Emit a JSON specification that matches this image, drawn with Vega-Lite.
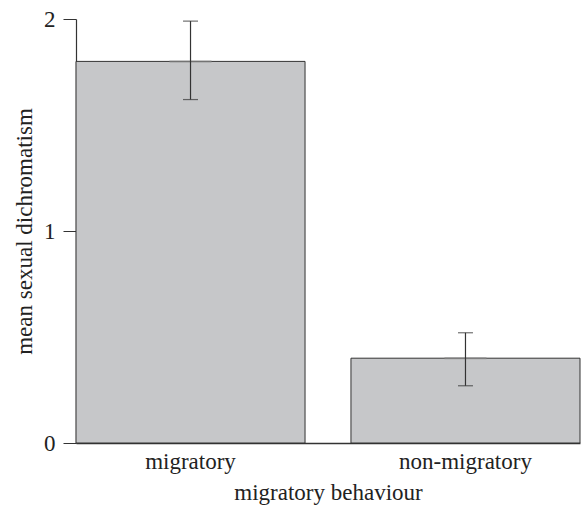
{
  "$schema": "https://vega.github.io/schema/vega-lite/v6.json",
  "autosize": "none",
  "width": 504,
  "height": 424,
  "padding": {"left": 76, "top": 19, "right": 1, "bottom": 68},
  "background": "white",
  "config": {
    "view": {"stroke": null},
    "font": "Liberation Serif",
    "axis": {"grid": false, "labelFont": "Liberation Serif", "titleFont": "Liberation Serif", "titleFontWeight": "normal", "labelColor": "#222", "titleColor": "#222", "domainColor": "#333", "tickColor": "#333"}
  },
  "data": {"values": [
    {"behaviour": "migratory", "mean": 1.80, "lo": 1.62, "hi": 1.99},
    {"behaviour": "non-migratory", "mean": 0.40, "lo": 0.27, "hi": 0.52}
  ]},
  "encoding": {
    "x": {"field": "behaviour", "type": "nominal", "sort": null,
      "scale": {"paddingInner": 0.167, "paddingOuter": 0},
      "axis": {"title": "migratory behaviour", "labelAngle": 0, "ticks": false, "labelFontSize": 23, "titleFontSize": 23, "labelPadding": 7, "titlePadding": 8, "domainWidth": 1.5}}
  },
  "layer": [
    {
      "mark": {"type": "bar", "fill": "#c6c7c9", "stroke": "#333", "strokeWidth": 1},
      "encoding": {
        "y": {"field": "mean", "type": "quantitative",
          "scale": {"domain": [0, 2]},
          "axis": {"title": "mean sexual dichromatism", "values": [0, 1, 2], "format": ".0f", "labelOverlap": false, "labelFlush": false, "tickSize": 13, "labelFontSize": 23, "titleFontSize": 23, "labelPadding": 8, "titlePadding": 7, "domainWidth": 1.2}}
      }
    },
    {
      "mark": {"type": "tick", "color": "#888", "thickness": 2, "size": 42},
      "encoding": {"y": {"field": "mean", "type": "quantitative"}}
    },
    {
      "mark": {"type": "rule", "color": "#333", "strokeWidth": 1.2},
      "encoding": {"y": {"field": "lo", "type": "quantitative"}, "y2": {"field": "hi"}}
    },
    {
      "mark": {"type": "tick", "color": "#333", "thickness": 1.2, "size": 15},
      "encoding": {"y": {"field": "lo", "type": "quantitative"}}
    },
    {
      "mark": {"type": "tick", "color": "#333", "thickness": 1.2, "size": 15},
      "encoding": {"y": {"field": "hi", "type": "quantitative"}}
    }
  ]
}
